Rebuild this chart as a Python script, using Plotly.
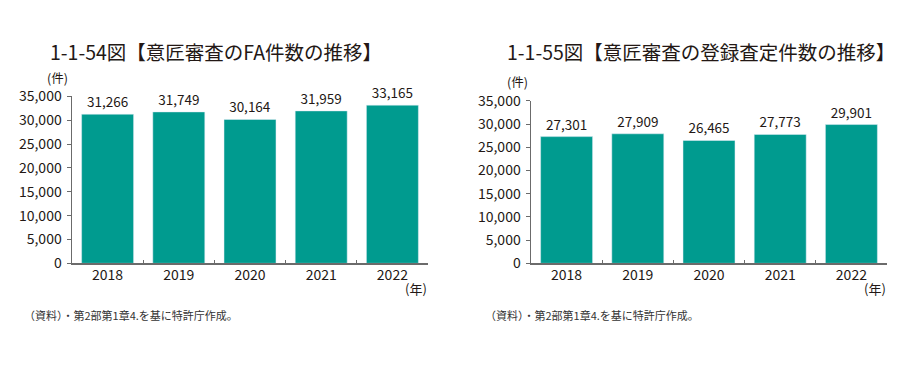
import plotly.graph_objects as go

years = ["2018", "2019", "2020", "2021", "2022"]
fa_counts = [31266, 31749, 30164, 31959, 33165]
reg_counts = [27301, 27909, 26465, 27773, 29901]
y_ticks = [0, 5000, 10000, 15000, 20000, 25000, 30000, 35000]
title_left = "1-1-54図【意匠審査のFA件数の推移】"
title_right = "1-1-55図【意匠審査の登録査定件数の推移】"
source_note = "（資料）・第2部第1章4.を基に特許庁作成。"

W, H = 924, 381
FONT = "Noto Sans CJK JP"
BAR = "#009B8F"
AX = "#6b6b6b"
TXT = "#231815"

def px_x(p):
    return p / W

def px_y(p):
    # compensate the measured vertical placement of the rendered page
    q = (p - 8.9) / 0.953
    return 1 - q / H

fig = go.Figure()
fig.add_trace(go.Bar(x=years, y=fa_counts, marker_color=BAR, xaxis="x", yaxis="y",
                     text=fa_counts, texttemplate="%{y:,}", textposition="outside",
                     textfont=dict(size=13.5, color=TXT), cliponaxis=False, hoverinfo="skip"))
fig.add_trace(go.Bar(x=years, y=reg_counts, marker_color=BAR, xaxis="x2", yaxis="y2",
                     text=reg_counts, texttemplate="%{y:,}", textposition="outside",
                     textfont=dict(size=13.5, color=TXT), cliponaxis=False, hoverinfo="skip"))

def xax(domain, anchor):
    return dict(domain=domain, anchor=anchor, type="category", showline=True, linecolor=AX,
                linewidth=1.5, ticks="inside", tickson="boundaries", ticklen=3, tickcolor=AX,
                tickwidth=1, showgrid=False, zeroline=False, ticklabelstandoff=-2,
                tickfont=dict(size=14, color=TXT, family=FONT), fixedrange=True)

def yax(domain, anchor):
    return dict(domain=domain, anchor=anchor, range=[0, 35000], tickvals=y_ticks,
                tickformat=",", showline=True, linecolor=AX, linewidth=1.5, ticks="outside",
                ticklen=4, tickcolor=AX, tickwidth=1, showgrid=False, zeroline=False,
                tickfont=dict(size=14, color=TXT, family=FONT), ticklabelstandoff=2,
                fixedrange=True)

fig.update_layout(
    width=W, height=H, autosize=False, margin=dict(l=0, r=0, t=0, b=0),
    paper_bgcolor="white", plot_bgcolor="white", showlegend=False,
    font=dict(family=FONT, color=TXT), bargap=0.27,
    xaxis=xax([px_x(72), px_x(428)], "y"),
    yaxis=yax([px_y(262.7), px_y(94.8)], "x"),
    xaxis2=xax([px_x(531), px_x(887)], "y2"),
    yaxis2=yax([px_y(262.7), px_y(99.3)], "x2"),
)

def ann(text, x, y, size, xanchor="left", color=TXT):
    fig.add_annotation(text=text, x=px_x(x), y=px_y(y), xref="paper", yref="paper",
                       xanchor=xanchor, yanchor="middle", showarrow=False,
                       font=dict(size=size, color=color, family=FONT))

ann(title_left, 48, 50, 19.5)
ann(title_right, 505, 50, 19.5)
ann("(件)", 70, 76, 12.5, xanchor="right")
ann("(件)", 530, 80, 12.5, xanchor="right")
ann("(年)", 429, 288, 13, xanchor="right")
ann("(年)", 888, 288, 13, xanchor="right")
ann(source_note, 22, 314.5, 11, color="#333333")
ann(source_note, 483, 314.5, 11, color="#333333")

fig.write_html("out.html", config={"responsive": False, "displayModeBar": False, "staticPlot": True})

with open("out.html", "r", encoding="utf-8") as f:
    html = f.read()
html = html.replace("<head>", "<head><style>html,body{margin:0;padding:0;overflow:hidden;}</style>", 1)
with open("out.html", "w", encoding="utf-8") as f:
    f.write(html)
